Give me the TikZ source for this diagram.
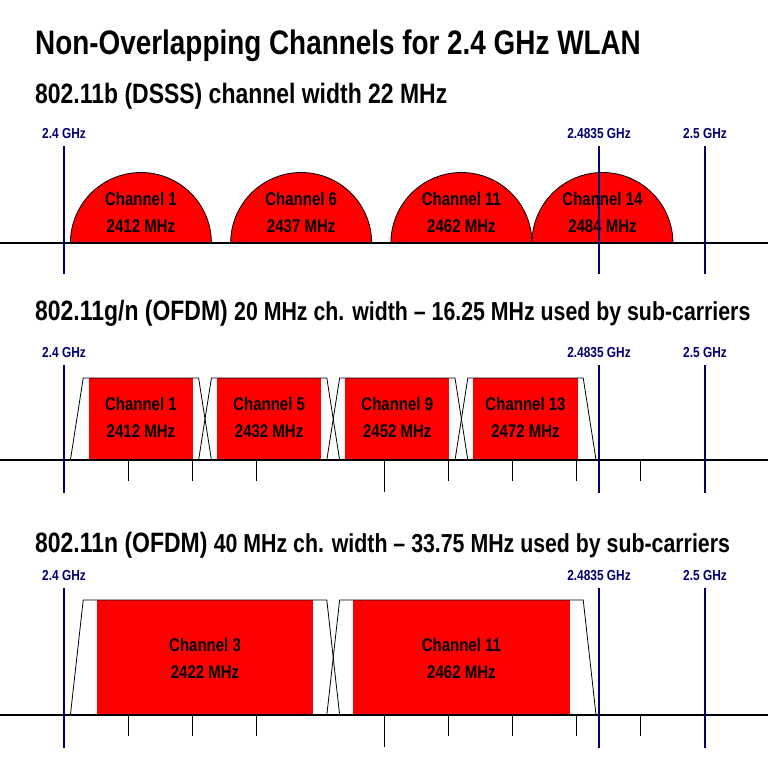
\documentclass[tikz,border=0pt]{standalone}
\usepackage{fontspec}
\setmainfont{Liberation Sans}[FakeStretch=0.82]
\usetikzlibrary{positioning}
\tikzset{freq label/.style={text=blue!45!black,font=\bfseries\fontsize{14.5}{14.5}\selectfont,anchor=base},
         freq line/.style={draw=blue!45!black,line width=1.2pt},
         chan text/.style={font=\bfseries\fontsize{18.3}{27}\selectfont,align=center},
         chan fill/.style={fill=red,draw=none},
         base line/.style={line width=1.5pt},
         heading/.style={anchor=base west,inner sep=0pt}
}
\begin{document}
\begin{tikzpicture}[x=1pt,y=-1pt]
\useasboundingbox (0,0) rectangle (768,768);
\node[heading,font=\bfseries\fontsize{34}{34}\selectfont] (title) at (35,55) {Non-Overlapping Channels for 2.4 GHz WLAN};
\node[heading,font=\bfseries\fontsize{28}{28}\selectfont] (headb) at (35,103) {802.11b (DSSS) channel width 22 MHz};
\node[heading] (headg) at (35,320) {\bfseries\fontsize{28}{28}\selectfont 802.11g/n (OFDM) \fontsize{26}{26}\selectfont 20 MHz ch. width -- 16.25 MHz used by sub-carriers};
\node[heading] (headn) at (35,552) {\bfseries\fontsize{28}{28}\selectfont 802.11n (OFDM) \fontsize{26}{26}\selectfont 40 MHz ch. width -- 33.75 MHz used by sub-carriers};

% 802.11b
\foreach \c/\f in {1/12,6/37,11/62,14/84}{
  \filldraw[fill=red,draw=black,line width=0.8pt] ({64+6.41*(\f-11)},243) arc[start angle=180,end angle=360,radius=70.5];
  \node[chan text] (b\c) at ({64+6.41*\f},212) {Channel \c\\24\f{} MHz};
}
\draw[base line] (0,243) -- (768,243);
\foreach \n/\x/\t in {lo/64/2.4 GHz,mid/599/2.4835 GHz,hi/705/2.5 GHz}{
  \node[freq label] (fb\n) at (\x,138) {\t};
  \draw[freq line] (\x,146) -- (\x,274);
}

% 802.11g/n
\foreach \c/\f in {1/12,5/32,9/52,13/72}{
  \path[chan fill] ({64+6.41*(\f-8.125)},378) rectangle ({64+6.41*(\f+8.125)},460);
  \draw[line width=0.8pt] ({64+6.41*(\f-11)},460) -- ({64+6.41*(\f-9)},378) -- ({64+6.41*(\f+9)},378) -- ({64+6.41*(\f+11)},460);
  \node[chan text] (g\c) at ({64+6.41*\f},417) {Channel \c\\24\f{} MHz};
}
\draw[base line] (0,460) -- (768,460);
\foreach \k in {1,2,3,5,6,7,8,9} \draw[line width=0.8pt] ({64+64*\k},460) -- ({64+64*\k},481);
\draw[line width=0.8pt] (384,460) -- (384,492);
\foreach \n/\x/\t in {lo/64/2.4 GHz,mid/599/2.4835 GHz,hi/705/2.5 GHz}{
  \node[freq label] (fg\n) at (\x,357) {\t};
  \draw[freq line] (\x,365) -- (\x,493);
}

% 802.11n
\foreach \c/\f in {3/22,11/62}{
  \path[chan fill] ({64+6.41*(\f-16.875)},600) rectangle ({64+6.41*(\f+16.875)},715);
  \draw[line width=0.8pt] ({64+6.41*(\f-21)},715) -- ({64+6.41*(\f-19)},600) -- ({64+6.41*(\f+19)},600) -- ({64+6.41*(\f+21)},715);
  \node[chan text] (n\c) at ({64+6.41*\f},658) {Channel \c\\24\f{} MHz};
}
\draw[base line] (0,715) -- (768,715);
\foreach \k in {1,2,3,5,6,7,8,9} \draw[line width=0.8pt] ({64+64*\k},715) -- ({64+64*\k},736);
\draw[line width=0.8pt] (384,715) -- (384,747);
\foreach \n/\x/\t in {lo/64/2.4 GHz,mid/599/2.4835 GHz,hi/705/2.5 GHz}{
  \node[freq label] (fn\n) at (\x,580) {\t};
  \draw[freq line] (\x,588) -- (\x,748);
}
\end{tikzpicture}
\end{document}
